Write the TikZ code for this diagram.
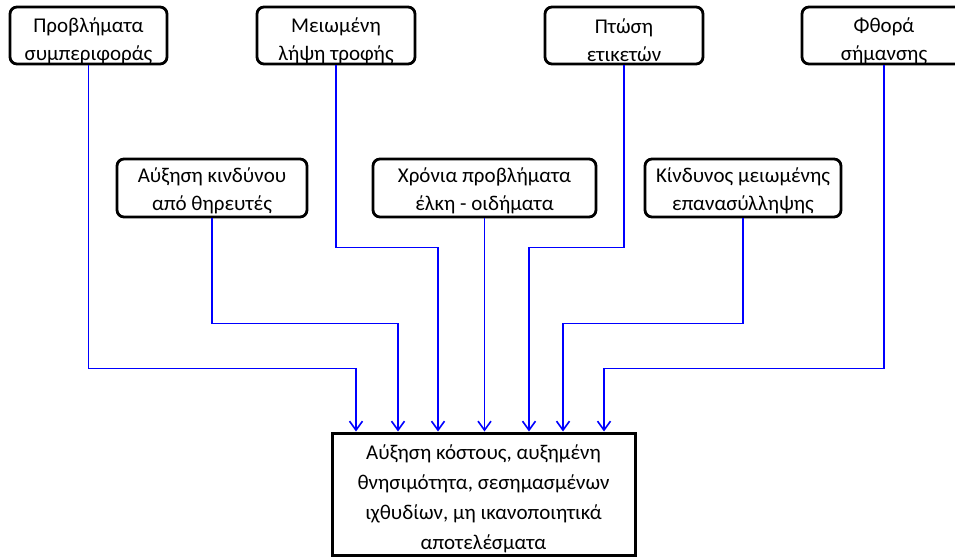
\documentclass[tikz,border=0pt]{standalone}
\usepackage{fontspec}
\setmainfont{Carlito}
\usetikzlibrary{arrows.meta}
\newcommand{\lowstrut}{\rule{0pt}{25pt}}
\newcommand{\midstrut}{\rule{0pt}{21pt}}
\begin{document}
\begin{tikzpicture}[x=1pt,y=-1pt,
  tbox/.style={draw=black,line width=2.8pt,rounded corners=7pt,align=center,inner sep=0pt,
    font=\fontsize{21}{28}\selectfont,minimum height=57pt},
  obox/.style={draw=black,line width=3pt,align=center,inner sep=0pt,
    font=\fontsize{21}{30}\selectfont},
  arr/.style={draw={rgb,255:red,0;green,0;blue,255},line width=1.6pt,
    -{Straight Barb[length=9pt,width=13pt,line width=1.6pt]}}]
\clip (0,0) rectangle (955,558);
\useasboundingbox (0,0) rectangle (955,558);
\node[tbox,minimum width=157pt] (b1) at (88.5,35.5) {\lowstrut Προβλήματα\\συμπεριφοράς};
\node[tbox,minimum width=158pt] (b2) at (336,35.5) {\lowstrut Μειωμένη\\λήψη τροφής};
\node[tbox,minimum width=158pt] (b3) at (624,35.5) {\lowstrut Πτώση\\ετικετών};
\node[tbox,minimum width=164pt] (b4) at (884,35.5) {\lowstrut Φθορά\\σήμανσης};
\node[tbox,minimum width=190pt,minimum height=58pt] (b5) at (212,188) {\midstrut Αύξηση κινδύνου\\από θηρευτές};
\node[tbox,minimum width=223pt,minimum height=58pt] (b6) at (484.5,188) {\midstrut Χρόνια προβλήματα\\έλκη - οιδήματα};
\node[tbox,minimum width=196pt,minimum height=58pt] (b7) at (743,188) {\midstrut Κίνδυνος μειωμένης\\επανασύλληψης};
\node[obox,minimum width=303pt,minimum height=122pt] (out) at (483.5,494) {\lowstrut Αύξηση κόστους, αυξημένη\\θνησιμότητα, σεσημασμένων\\ιχθυδίων, μη ικανοποιητικά\\αποτελέσματα};
\coordinate (e1) at ([xshift=-127.5pt]out.north);
\coordinate (e2) at ([xshift=-85.5pt]out.north);
\coordinate (e3) at ([xshift=-45.5pt]out.north);
\coordinate (e5) at ([xshift=45.5pt]out.north);
\coordinate (e6) at ([xshift=79.5pt]out.north);
\coordinate (e7) at ([xshift=120.5pt]out.north);
\draw[arr] (b1.south) |- ([yshift=63pt]e1) -- (e1);
\draw[arr] (b5.south) |- ([yshift=108pt]e2) -- (e2);
\draw[arr] (b2.south) |- ([yshift=184pt]e3) -- (e3);
\draw[arr] (b6.south) -- (b6.south |- out.north);
\draw[arr] (b3.south) |- ([yshift=184pt]e5) -- (e5);
\draw[arr] (b7.south) |- ([yshift=108pt]e6) -- (e6);
\draw[arr] (b4.south) |- ([yshift=63pt]e7) -- (e7);
\end{tikzpicture}
\end{document}
